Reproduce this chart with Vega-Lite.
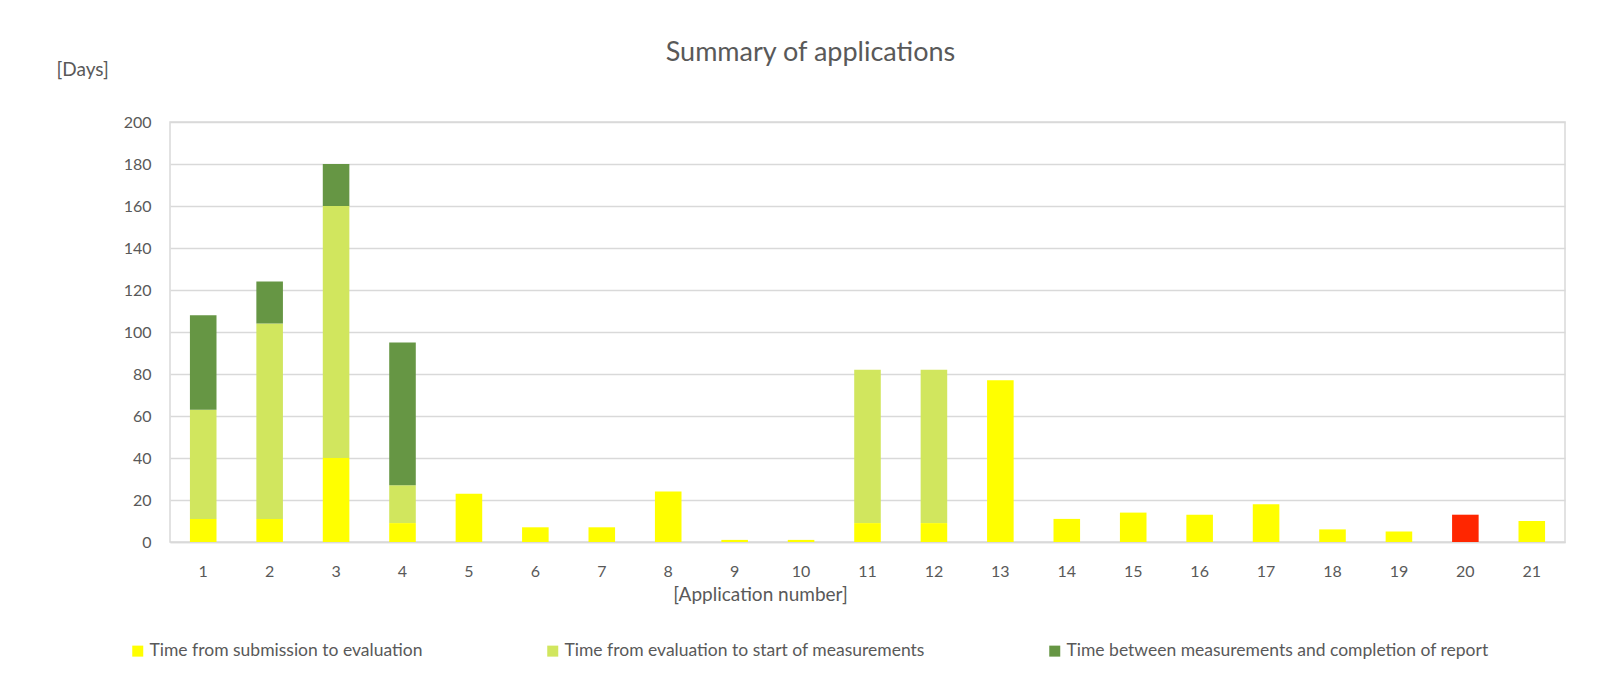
{
  "$schema": "https://vega.github.io/schema/vega-lite/v6.json",
  "autosize": {"type": "none"},
  "width": 1395,
  "height": 420,
  "padding": {"left": 170, "top": 122, "right": 33, "bottom": 143},
  "background": "white",
  "title": {
    "text": "Summary of applications",
    "font": "Lato",
    "fontSize": 27,
    "fontWeight": "normal",
    "color": "#595959",
    "anchor": "middle",
    "dx": -57,
    "offset": -7
  },
  "data": {
    "values": [
      {"app": 1, "series": "Time from submission to evaluation", "days": 11},
      {"app": 1, "series": "Time from evaluation to start of measurements", "days": 52},
      {"app": 1, "series": "Time between measurements and completion of report", "days": 45},
      {"app": 2, "series": "Time from submission to evaluation", "days": 11},
      {"app": 2, "series": "Time from evaluation to start of measurements", "days": 93},
      {"app": 2, "series": "Time between measurements and completion of report", "days": 20},
      {"app": 3, "series": "Time from submission to evaluation", "days": 40},
      {"app": 3, "series": "Time from evaluation to start of measurements", "days": 120},
      {"app": 3, "series": "Time between measurements and completion of report", "days": 20},
      {"app": 4, "series": "Time from submission to evaluation", "days": 9},
      {"app": 4, "series": "Time from evaluation to start of measurements", "days": 18},
      {"app": 4, "series": "Time between measurements and completion of report", "days": 68},
      {"app": 5, "series": "Time from submission to evaluation", "days": 23},
      {"app": 6, "series": "Time from submission to evaluation", "days": 7},
      {"app": 7, "series": "Time from submission to evaluation", "days": 7},
      {"app": 8, "series": "Time from submission to evaluation", "days": 24},
      {"app": 9, "series": "Time from submission to evaluation", "days": 1},
      {"app": 10, "series": "Time from submission to evaluation", "days": 1},
      {"app": 11, "series": "Time from submission to evaluation", "days": 9},
      {"app": 11, "series": "Time from evaluation to start of measurements", "days": 73},
      {"app": 12, "series": "Time from submission to evaluation", "days": 9},
      {"app": 12, "series": "Time from evaluation to start of measurements", "days": 73},
      {"app": 13, "series": "Time from submission to evaluation", "days": 77},
      {"app": 14, "series": "Time from submission to evaluation", "days": 11},
      {"app": 15, "series": "Time from submission to evaluation", "days": 14},
      {"app": 16, "series": "Time from submission to evaluation", "days": 13},
      {"app": 17, "series": "Time from submission to evaluation", "days": 18},
      {"app": 18, "series": "Time from submission to evaluation", "days": 6},
      {"app": 19, "series": "Time from submission to evaluation", "days": 5},
      {"app": 20, "series": "Time from submission to evaluation", "days": 13},
      {"app": 21, "series": "Time from submission to evaluation", "days": 10}
    ]
  },
  "mark": {"type": "bar"},
  "encoding": {
    "x": {
      "field": "app",
      "type": "ordinal",
      "scale": {"paddingInner": 0.6, "paddingOuter": 0.3},
      "axis": {
        "title": "[Application number]",
        "labelAngle": 0,
        "ticks": false,
        "domainColor": "#D9D9D9",
        "domainWidth": 1.5,
        "labelPadding": 21,
        "titleX": 590,
        "titleY": 52,
        "titleBaseline": "middle",
        "titleAnchor": null
      }
    },
    "y": {
      "field": "days",
      "type": "quantitative",
      "aggregate": "sum",
      "scale": {"domain": [0, 200]},
      "axis": {
        "title": "[Days]",
        "values": [0, 20, 40, 60, 80, 100, 120, 140, 160, 180, 200],
        "ticks": false,
        "domain": false,
        "labelPadding": 19,
        "titleAngle": 0,
        "titleAlign": "left",
        "titleBaseline": "middle",
        "titleX": -114,
        "titleY": -53,
        "titleAnchor": null
      }
    },
    "color": {
      "condition": {"test": "datum.app == 20", "value": "#FF2600"},
      "field": "series",
      "type": "nominal",
      "scale": {
        "domain": [
          "Time from submission to evaluation",
          "Time from evaluation to start of measurements",
          "Time between measurements and completion of report"
        ],
        "range": ["#FFFF00", "#D1E65E", "#669644"]
      },
      "legend": {
        "title": null,
        "orient": "none",
        "direction": "horizontal",
        "columns": 3,
        "legendX": -41,
        "legendY": 520,
        "symbolType": "square",
        "symbolSize": 121,
        "symbolStrokeWidth": 0,
        "labelOffset": 3,
        "columnPadding": 121,
        "labelLimit": 600
      }
    },
    "order": {"field": "sortIdx", "type": "quantitative"}
  },
  "transform": [
    {"calculate": "indexof(['Time from submission to evaluation','Time from evaluation to start of measurements','Time between measurements and completion of report'], datum.series)", "as": "sortIdx"}
  ],
  "config": {
    "font": "Lato",
    "view": {"stroke": "#D9D9D9", "strokeWidth": 1.5},
    "axis": {
      "labelFont": "Lato",
      "labelFontSize": 16,
      "labelColor": "#595959",
      "titleFont": "Lato",
      "titleFontSize": 19,
      "titleFontWeight": "normal",
      "titleColor": "#595959",
      "gridColor": "#D9D9D9",
      "gridWidth": 1.5
    },
    "legend": {
      "labelFont": "Lato",
      "labelFontSize": 17.5,
      "labelColor": "#595959"
    }
  }
}
